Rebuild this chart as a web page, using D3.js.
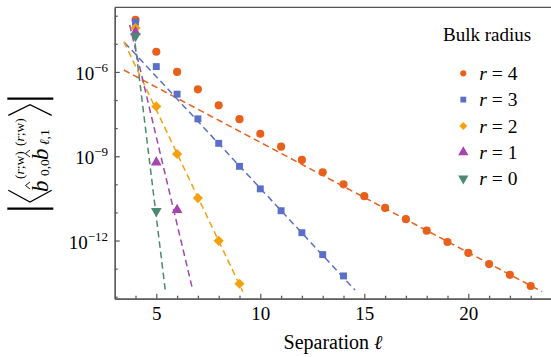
<!DOCTYPE html>
<html>
<head>
<meta charset="utf-8">
<script src="https://cdn.jsdelivr.net/npm/d3@7"></script>
<style>
  body { margin: 0; background: #fff; }
  svg { display: block; font-family: "Liberation Serif", "Times New Roman", serif; }
</style>
</head>
<body>
<svg id="chart" width="551" height="357"></svg>
<script>

// separations and correlator magnitudes, one array per bulk radius
var sepR4 = [4, 5, 6, 7, 8, 9, 10, 11, 12, 13, 14, 15, 16, 17, 18, 19, 20, 21, 22, 23];
var valR4 = [7.1e-5, 5.25e-6, 1.0e-6, 2.4e-7, 6.46e-8, 2.09e-8, 6.3e-9, 2.19e-9, 7.41e-10, 2.69e-10,
             1.0e-10, 3.8e-11, 1.45e-11, 5.75e-12, 2.24e-12, 8.9e-13, 3.63e-13, 1.45e-13, 6.0e-14, 2.4e-14];
var sepR3 = [4, 5, 6, 7, 8, 9, 10, 11, 12, 13, 14];
var valR3 = [5.89e-5, 1.55e-6, 1.62e-7, 2.14e-8, 2.88e-9, 4.37e-10, 6.9e-11, 1.15e-11, 1.9e-12, 3.16e-13, 5.5e-14];
var sepR2 = [4, 5, 6, 7, 8, 9];
var valR2 = [3.63e-5, 5.9e-8, 1.2e-9, 3.24e-11, 9.8e-13, 2.9e-14];
var sepR1 = [4, 5, 6];
var valR1 = [2.63e-5, 6.0e-10, 1.23e-11];
var sepR0 = [4, 5];
var valR0 = [1.9e-5, 1.12e-11];

// dashed exponential fits, given by their two end points [sep, value]
var fitR4 = [[3.44, 1.17e-6], [23.55, 1.51e-14]];
var fitR3 = [[3.48, 1.1e-5], [14.55, 1.74e-14]];
var fitR2 = [[3.44, 1.2e-5], [9.16, 1.51e-14]];
var fitR1 = [[3.72, 4.7e-5], [6.73, 2.0e-14]];
var fitR0 = [[3.92, 2.45e-5], [5.43, 1.74e-14]];

var radii = [4, 3, 2, 1, 0];
var xMajorTicks = [5, 10, 15, 20];
var xMinorTicks = [4, 6, 7, 8, 9, 11, 12, 13, 14, 16, 17, 18, 19, 21, 22, 23];
var yMajorExp = [-6, -9, -12];
var yMinorExp = [-4, -5, -7, -8, -10, -11, -13, -14];

var series = [
  { r: 4, sep: sepR4, val: valR4, fit: fitR4, color: '#e8611c', shape: 'circle' },
  { r: 3, sep: sepR3, val: valR3, fit: fitR3, color: '#5b6fc8', shape: 'square' },
  { r: 2, sep: sepR2, val: valR2, fit: fitR2, color: '#f4a10d', shape: 'diamond' },
  { r: 1, sep: sepR1, val: valR1, fit: fitR1, color: '#a445b2', shape: 'up' },
  { r: 0, sep: sepR0, val: valR0, fit: fitR0, color: '#4a8a72', shape: 'down' }
];

var svg = d3.select('#chart');

var x = d3.scaleLinear().domain([3, 24]).range([114.7, 551.5]);
var y = d3.scaleLog().domain([Math.pow(10, -14.07), Math.pow(10, -3.70)]).range([298.7, 7.3]);

var frameColor = '#555';
var serif = '"Liberation Serif", "Times New Roman", serif';

// marker helpers
function symbolPath(shape, big) {
  if (shape == 'circle') return d3.symbol(d3.symbolCircle, big ? 52 : 30)();
  if (shape == 'square') return d3.symbol(d3.symbolSquare, big ? 48 : 34)();
  if (shape == 'diamond') return d3.symbol(d3.symbolSquare, big ? 52 : 32)();
  return d3.symbol(d3.symbolTriangle, big ? 50 : 46)();
}
function symbolRotate(shape) {
  if (shape == 'diamond') return ' rotate(45)';
  if (shape == 'down') return ' rotate(180)';
  return '';
}

// axes
var xMinor = d3.axisBottom(x).tickValues(xMinorTicks).tickSize(-3).tickSizeOuter(0).tickFormat('');
var xMajor = d3.axisBottom(x).tickValues(xMajorTicks).tickSize(-5).tickSizeOuter(0).tickPadding(8);

var gx = svg.append('g').attr('transform', 'translate(0,' + y.range()[0] + ')');
gx.call(xMinor);
gx.append('g').call(xMajor);
gx.selectAll('text').attr('font-size', 19).attr('fill', '#000').attr('font-family', serif);

var yMinor = d3.axisLeft(y).tickValues(yMinorExp.map(function(e) { return Math.pow(10, e); }))
  .tickSize(-3).tickSizeOuter(0).tickFormat('');
var yMajor = d3.axisLeft(y).tickValues(yMajorExp.map(function(e) { return Math.pow(10, e); }))
  .tickSize(-5).tickSizeOuter(0).tickFormat('');

var gy = svg.append('g').attr('transform', 'translate(' + x.range()[0] + ',0)');
gy.call(yMinor);
gy.append('g').call(yMajor);

svg.selectAll('.domain, .tick line').attr('stroke', frameColor).attr('stroke-width', 1.2);

// top edge of the frame
svg.append('line')
  .attr('x1', x.range()[0]).attr('x2', x.range()[1])
  .attr('y1', y.range()[1]).attr('y2', y.range()[1])
  .attr('stroke', frameColor).attr('stroke-width', 1.2);

// y tick labels as 10^n
yMajorExp.forEach(function(e) {
  var t = svg.append('text')
    .attr('x', 108).attr('y', y(Math.pow(10, e)) + 8)
    .attr('text-anchor', 'end').attr('font-size', 19);
  t.append('tspan').text('10');
  t.append('tspan').attr('dy', -8).attr('font-size', 13).text('\u2212' + Math.abs(e));
});

// fits
var line = d3.line()
  .x(function(d) { return x(d[0]); })
  .y(function(d) { return y(d[1]); });

svg.append('g').selectAll('path')
  .data(series)
  .enter().append('path')
  .attr('d', function(d) { return line(d.fit); })
  .attr('fill', 'none')
  .attr('stroke', function(d) { return d.color; })
  .attr('stroke-width', 1.5)
  .attr('stroke-dasharray', '6.5,4');

// points
series.forEach(function(s) {
  svg.append('g').selectAll('path')
    .data(s.sep.map(function(l, i) { return [l, s.val[i]]; }))
    .enter().append('path')
    .attr('d', symbolPath(s.shape, true))
    .attr('transform', function(d) {
      return 'translate(' + x(d[0]) + ',' + y(d[1]) + ')' + symbolRotate(s.shape);
    })
    .attr('fill', s.color);
});

// legend
var legend = svg.append('g');
legend.append('text')
  .attr('x', 443).attr('y', 41)
  .attr('font-size', 19)
  .text('Bulk radius');

var rowY = d3.scalePoint().domain(radii).range([73.3, 178.5]);

var row = legend.selectAll('.row')
  .data(series)
  .enter().append('g')
  .attr('class', 'row')
  .attr('transform', function(d) { return 'translate(0,' + rowY(d.r) + ')'; });

row.append('path')
  .attr('d', function(d) { return symbolPath(d.shape, false); })
  .attr('transform', function(d) { return 'translate(463.3,0)' + symbolRotate(d.shape); })
  .attr('fill', function(d) { return d.color; });

var lt = row.append('text')
  .attr('x', 479.3).attr('y', 6.8)
  .attr('font-size', 19.5);
lt.append('tspan').attr('font-style', 'italic').text('r');
lt.append('tspan').text(function(d) { return ' = ' + d.r; });

// x title
var xt = svg.append('text')
  .attr('x', 333).attr('y', 349)
  .attr('text-anchor', 'middle')
  .attr('font-size', 20);
xt.append('tspan').text('Separation ');
xt.append('tspan').attr('font-style', 'italic').text('\u2113');

// y title: |< b^(r;w)_{0,0} b^(r;w)_{l,1} >|
var yl = svg.append('g');
yl.append('line').attr('x1', 7.3).attr('x2', 53.3).attr('y1', 98.7).attr('y2', 98.7)
  .attr('stroke', '#000').attr('stroke-width', 2.2);
yl.append('line').attr('x1', 7.3).attr('x2', 53.3).attr('y1', 208.7).attr('y2', 208.7)
  .attr('stroke', '#000').attr('stroke-width', 2.2);
yl.append('path').attr('d', 'M8.3,115.3L30,104.7L51.7,115.3')
  .attr('fill', 'none').attr('stroke', '#000').attr('stroke-width', 1.3);
yl.append('path').attr('d', 'M8.3,190.3L30,202L51.7,190.3')
  .attr('fill', 'none').attr('stroke', '#000').attr('stroke-width', 1.3);

var inner = yl.append('g').attr('transform', 'translate(30,154) rotate(-90)');

function bhat(x0, supX, subX, subText) {
  inner.append('text').attr('x', x0).attr('y', 18)
    .attr('font-size', 23).attr('font-style', 'italic').text('b');
  inner.append('path')
    .attr('d', 'M' + (x0 + 3) + ',0L' + (x0 + 6.5) + ',-4.5L' + (x0 + 10) + ',0')
    .attr('fill', 'none').attr('stroke', '#000').attr('stroke-width', 0.9);
  var sup = inner.append('text').attr('x', supX).attr('y', -6).attr('font-size', 13.5);
  sup.append('tspan').text('(');
  sup.append('tspan').attr('font-style', 'italic').text('r');
  sup.append('tspan').text(';w)');
  var sub = inner.append('text').attr('x', subX).attr('y', 19).attr('font-size', 13.5);
  sub.append('tspan').attr('font-style', subText[0] == '\u2113' ? 'italic' : 'normal').text(subText[0]);
  sub.append('tspan').text(subText.slice(1));
}

bhat(-38, -25, -22, '0,0');
bhat(-6, 8, 9, '\u2113,1');

</script>
</body>
</html>
